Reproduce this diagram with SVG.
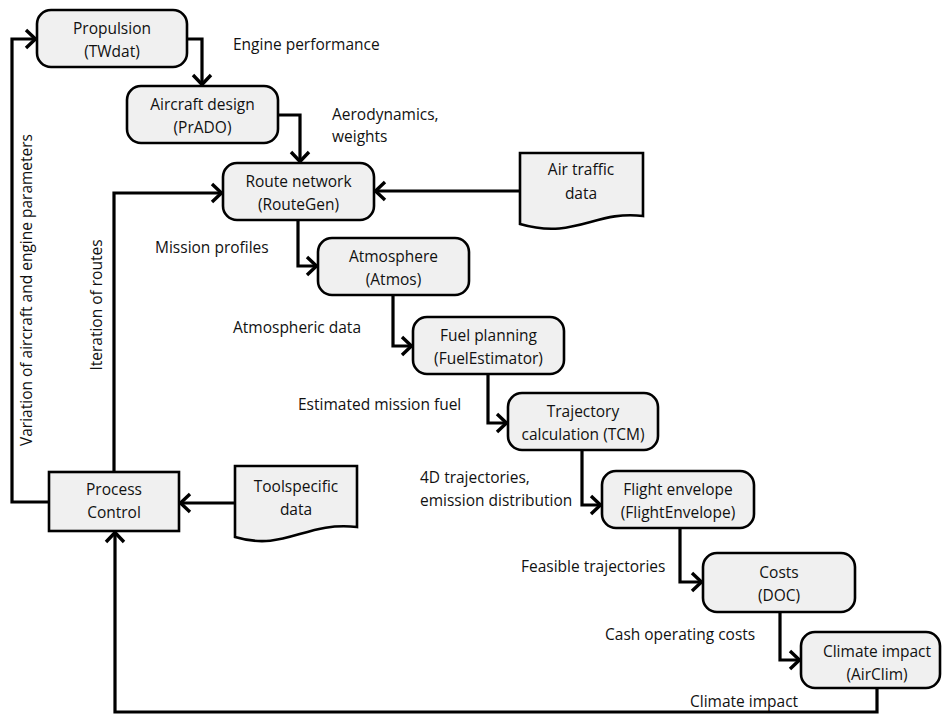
<svg xmlns="http://www.w3.org/2000/svg" width="942" height="715" viewBox="0 0 942 715">
<style>
.n{fill:#f0f0f0;stroke:#000;stroke-width:2.6}
.t{font-family:"Open Sans","Liberation Sans",sans-serif;font-size:15.5px;fill:#111}
.c{text-anchor:middle}
.e{fill:none;stroke:#000;stroke-width:3.2;stroke-linejoin:miter}
</style>
<defs>
<marker id="a" viewBox="0 0 14 22" refX="12" refY="11" markerWidth="14" markerHeight="22" markerUnits="userSpaceOnUse" orient="auto">
<path d="M2,2 L11.5,11 L2,20" fill="none" stroke="#000" stroke-width="3.4"/>
</marker>
</defs>
<rect width="942" height="715" fill="#fff"/>
<g id="connectors">
<path class="e" d="M187,39 H202 V85" marker-end="url(#a)"/>
<path class="e" d="M278,115 H300 V162" marker-end="url(#a)"/>
<path class="e" d="M520,191 H375" marker-end="url(#a)"/>
<path class="e" d="M298,220 V266 H317" marker-end="url(#a)"/>
<path class="e" d="M393,295 V346 H412" marker-end="url(#a)"/>
<path class="e" d="M488,374 V423 H507" marker-end="url(#a)"/>
<path class="e" d="M582,450 V505 H601" marker-end="url(#a)"/>
<path class="e" d="M680,528 V582 H702" marker-end="url(#a)"/>
<path class="e" d="M780,612 V660 H800" marker-end="url(#a)"/>
<path class="e" d="M877,688 V712 H115 V532" marker-end="url(#a)"/>
<path class="e" d="M235,503 H180" marker-end="url(#a)"/>
<path class="e" d="M49,502 H12 V39 H36" marker-end="url(#a)"/>
<path class="e" d="M114,472 V193 H222" marker-end="url(#a)"/>
</g>
<g id="propulsion"><rect class="n" x="37" y="10" width="150" height="57" rx="14"/><text class="t c" x="112" y="34">Propulsion</text><text class="t c" x="112" y="57">(TWdat)</text></g>
<g id="aircraft"><rect class="n" x="127" y="86" width="151" height="57" rx="14"/><text class="t c" x="202.5" y="110">Aircraft design</text><text class="t c" x="202.5" y="133">(PrADO)</text></g>
<g id="route"><rect class="n" x="223" y="163" width="151" height="57" rx="14"/><text class="t c" x="298.5" y="187">Route network</text><text class="t c" x="298.5" y="210">(RouteGen)</text></g>
<g id="airtraffic"><path class="n" d="M520,153 H643 V216 C595,210 575,240 520,224 Z"/><text class="t c" x="581" y="175">Air traffic</text><text class="t c" x="581" y="199">data</text></g>
<g id="atmosphere"><rect class="n" x="318" y="238" width="151" height="57" rx="14"/><text class="t c" x="393.5" y="262">Atmosphere</text><text class="t c" x="393.5" y="285">(Atmos)</text></g>
<g id="fuel"><rect class="n" x="413" y="317" width="151" height="57" rx="14"/><text class="t c" x="488.5" y="341">Fuel planning</text><text class="t c" x="488.5" y="364">(FuelEstimator)</text></g>
<g id="trajectory"><rect class="n" x="508" y="393" width="150" height="57" rx="14"/><text class="t c" x="583" y="417">Trajectory</text><text class="t c" x="583" y="440">calculation (TCM)</text></g>
<g id="flight"><rect class="n" x="602" y="471" width="152" height="57" rx="14"/><text class="t c" x="678" y="495">Flight envelope</text><text class="t c" x="678" y="518">(FlightEnvelope)</text></g>
<g id="costs"><rect class="n" x="703" y="553" width="152" height="59" rx="14"/><text class="t c" x="779" y="578">Costs</text><text class="t c" x="779" y="601">(DOC)</text></g>
<g id="climate"><rect class="n" x="801" y="632" width="139" height="56" rx="14"/><text class="t c" x="877" y="657">Climate impact</text><text class="t c" x="877" y="680">(AirClim)</text></g>
<g id="process"><rect class="n" x="49" y="472" width="130" height="59"/><text class="t c" x="114" y="495">Process</text><text class="t c" x="114" y="518">Control</text></g>
<g id="toolspecific"><path class="n" d="M235,466 H357 V527 C305,521 285,552 235,537 Z"/><text class="t c" x="296" y="492">Toolspecific</text><text class="t c" x="296" y="515">data</text></g>
<g id="labels">
<text class="t" x="233" y="50">Engine performance</text>
<text class="t" x="332" y="120">Aerodynamics,</text>
<text class="t" x="332" y="142">weights</text>
<text class="t" x="155" y="253">Mission profiles</text>
<text class="t" x="233" y="333">Atmospheric data</text>
<text class="t" x="298" y="410">Estimated mission fuel</text>
<text class="t" x="420" y="483">4D trajectories,</text>
<text class="t" x="420" y="506">emission distribution</text>
<text class="t" x="521" y="572">Feasible trajectories</text>
<text class="t" x="605" y="640">Cash operating costs</text>
<text class="t" x="690" y="707">Climate impact</text>
<text class="t c" transform="translate(32,290) rotate(-90)">Variation of aircraft and engine parameters</text>
<text class="t c" transform="translate(102,305) rotate(-90)">Iteration of routes</text>
</g>
</svg>
